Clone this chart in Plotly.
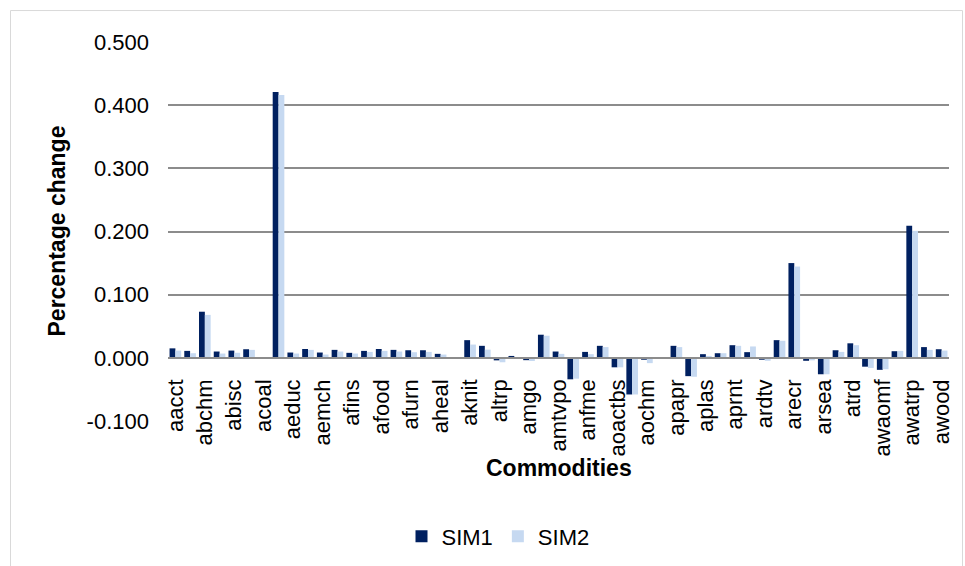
import plotly.graph_objects as go

# Commodity codes (every second one is labelled on the axis)
commodities = [
    "aacct", "aagri", "abchm", "abeve", "abisc", "acere", "acoal", "acons",
    "aeduc", "aelec", "aemch", "afert", "afins", "afish", "afood", "afrt",
    "afurn", "agovt", "aheal", "ahotl", "aknit", "aleat", "altrp", "amaiz",
    "amgo", "amill", "amtvpo", "ancm", "anfme", "anonm", "aoactbs", "aoagr",
    "aochm", "aomin", "apapr", "apetr", "aplas", "apoul", "aprnt", "arail",
    "ardtv", "areal", "arecr", "arest", "arsea", "atext", "atrd", "avegt",
    "awaomf", "awatr", "awatrp", "awhea", "awood",
]
shown_labels = commodities[::2]

sim1 = [
    0.015, 0.011, 0.073, 0.010, 0.0115, 0.0136, -0.0005, 0.421,
    0.0084, 0.014, 0.0084, 0.0126, 0.0079, 0.011, 0.014, 0.0126,
    0.012, 0.012, 0.0063, 0.001, 0.028, 0.019, -0.004, 0.003,
    -0.0037, 0.0366, 0.010, -0.034, 0.0094, 0.019, -0.015, -0.058,
    -0.003, 0.001, 0.019, -0.029, 0.0058, 0.0073, 0.020, 0.009,
    -0.003, 0.028, 0.150, -0.0047, -0.026, 0.012, 0.023, -0.014,
    -0.019, 0.0105, 0.209, 0.017, 0.0136,
]
sim2 = [
    0.0115, 0.0073, 0.068, 0.0068, 0.008, 0.0126, -0.0015, 0.416,
    0.0068, 0.0126, 0.0052, 0.010, 0.0068, 0.0094, 0.011, 0.010,
    0.0089, 0.0094, 0.0052, 0.0005, 0.021, 0.013, -0.007, 0.0005,
    -0.005, 0.035, 0.0063, -0.033, 0.0058, 0.017, -0.015, -0.058,
    -0.0084, 0.0003, 0.017, -0.030, 0.003, 0.0073, 0.019, 0.018,
    -0.0047, 0.027, 0.1445, -0.004, -0.026, 0.0094, 0.020, -0.016,
    -0.018, 0.011, 0.201, 0.0126, 0.0115,
]

y_ticks = [-0.1, 0.0, 0.1, 0.2, 0.3, 0.4, 0.5]
y_tick_labels = ["-0.100", "0.000", "0.100", "0.200", "0.300", "0.400", "0.500"]

# Page geometry (pixels)
W, H = 965, 566
L, R, T, B = 168, 949, 42, 421.5
pw, ph = R - L, B - T


def px_x(x):
    return (x - L) / pw


def px_y(y):
    return (B - y) / ph


FONT = "Liberation Sans, Arial, sans-serif"

fig = go.Figure()
fig.add_trace(go.Bar(name="SIM1", x=commodities, y=sim1, marker_color="#002060",
                     marker_line_width=0))
fig.add_trace(go.Bar(name="SIM2", x=commodities, y=sim2, marker_color="#C6D9F1",
                     marker_line_width=0))

y_min, y_max = y_ticks[0], y_ticks[-1]
zero_pos = (0 - y_min) / (y_max - y_min)

fig.update_layout(
    width=W, height=H,
    margin=dict(l=L, r=W - R, t=T, b=H - B, autoexpand=False),
    paper_bgcolor="white", plot_bgcolor="white",
    barmode="group", bargap=0.21, bargroupgap=0.0,
    font=dict(family=FONT, size=22, color="#000000"),
    xaxis=dict(
        type="category",
        anchor="free", position=zero_pos,
        tickmode="array", tickvals=shown_labels, ticktext=shown_labels,
        tickangle=-90, ticks="", ticklabelstandoff=12,
        showline=True, linecolor="#8c8c8c", linewidth=1.5,
        showgrid=False, zeroline=False,
        tickfont=dict(family=FONT, size=22, color="#000000"),
    ),
    yaxis=dict(
        range=[y_min, y_max],
        tickmode="array", tickvals=y_ticks, ticktext=y_tick_labels,
        ticks="", ticklabelstandoff=18,
        showgrid=True, gridcolor="#8c8c8c", gridwidth=1.5,
        zeroline=False, showline=False,
        tickfont=dict(family=FONT, size=22, color="#000000"),
    ),
    legend=dict(
        orientation="h", x=px_x(498), y=px_y(537), xanchor="center", yanchor="middle",
        font=dict(family=FONT, size=22, color="#000000"),
        bgcolor="rgba(0,0,0,0)", itemwidth=30,
    ),
    showlegend=True,
)

# Axis titles
fig.add_annotation(text="<b>Percentage change</b>", xref="paper", yref="paper",
                   x=px_x(56), y=0.5, textangle=-90, showarrow=False,
                   xanchor="center", yanchor="middle",
                   font=dict(family=FONT, size=23, color="#000000"))
fig.add_annotation(text="<b>Commodities</b>", xref="paper", yref="paper",
                   x=0.5, y=px_y(469), showarrow=False,
                   xanchor="center", yanchor="middle",
                   font=dict(family=FONT, size=23, color="#000000"))

# Chart-area frame
fig.add_shape(type="rect", xref="paper", yref="paper",
              x0=px_x(10.5), x1=px_x(962.5), y0=px_y(H + 5), y1=px_y(10.5),
              line=dict(color="#d9d9d9", width=1), fillcolor="rgba(0,0,0,0)",
              layer="below")

fig.write_html("out.html")
